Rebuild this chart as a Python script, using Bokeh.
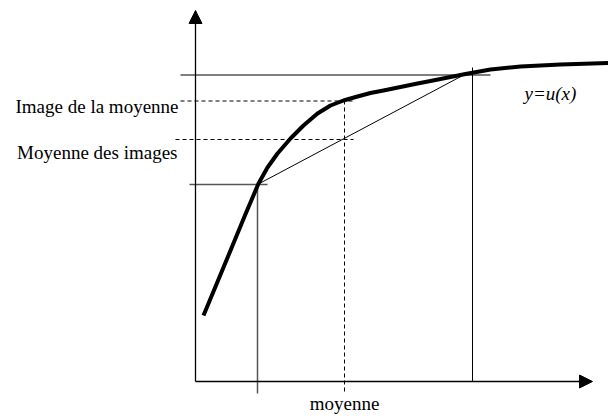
from bokeh.plotting import figure
from bokeh.models import Range1d, Arrow, NormalHead
from bokeh.core.properties import value
from bokeh.embed import file_html
from bokeh.resources import INLINE

# Utility curve u(x) (origin at axes crossing)
curve_x = [8, 35, 49, 63, 72, 82, 95, 108, 122, 135, 148, 162, 175, 188, 205, 222, 235, 250, 270, 295, 325, 365, 413]
curve_y = [66, 131, 165, 198, 214, 228, 243, 256, 268, 276, 281, 285, 288.5, 291, 294.5, 298, 300.5, 303.5, 307.5, 312, 315, 317, 318.5]

# Key values
x_low, x_mean, x_high = 62, 149, 277
chord_end_x, chord_end_y = 271, 308
u_low, u_high = 197, 306.5
u_of_mean, mean_of_u = 280.5, 242

# Axis extents
x_axis_end = 397
y_axis_end = 371

# Labels
label_image_moyenne = "Image de la moyenne"
label_moyenne_images = "Moyenne des images"
label_curve = "y=u(x)"
label_moyenne = "moyenne"

FONT = "Liberation Serif"

p = figure(width=608, height=416, output_backend="svg", toolbar_location=None,
           x_range=Range1d(-195, 413), y_range=Range1d(-35, 381),
           min_border=0, outline_line_color=None)
p.xaxis.visible = False
p.yaxis.visible = False
p.grid.visible = False
p.background_fill_color = "white"
p.border_fill_color = "white"

# Axes with arrows
p.add_layout(Arrow(end=NormalHead(size=13, fill_color="black", line_color="black", line_width=1),
                   x_start=0, y_start=0, x_end=x_axis_end, y_end=0,
                   line_color="black", line_width=1.3))
p.add_layout(Arrow(end=NormalHead(size=13, fill_color="black", line_color="black", line_width=1),
                   x_start=0, y_start=0, x_end=0, y_end=y_axis_end,
                   line_color="black", line_width=1.3))

# Thin solid black lines: top horizontal, right vertical, chord
p.segment(x0=[-15, x_high, x_low], y0=[u_high, 0, u_low],
          x1=[295, x_high, chord_end_x], y1=[u_high, 314, chord_end_y],
          line_color="black", line_width=1)

# Gray lines at lower point
p.segment(x0=[-6, x_low], y0=[u_low, -12], x1=[72, x_low], y1=[u_low, u_low],
          line_color="#555555", line_width=1.5)

# Dashed lines
p.segment(x0=[-15, -20, x_mean], y0=[u_of_mean, mean_of_u, -10],
          x1=[158, 158, x_mean], y1=[u_of_mean, mean_of_u, u_of_mean],
          line_color="black", line_width=1, line_dash="4 3")

# Curve
p.line(curve_x, curve_y, line_color="black", line_width=4, line_join="round")

# Texts
p.text(x=[-17], y=[275], text=[label_image_moyenne], text_align="right",
       text_baseline="alphabetic", text_font=value(FONT), text_font_size="19px",
       text_color="black")
p.text(x=[-18], y=[229], text=[label_moyenne_images], text_align="right",
       text_baseline="alphabetic", text_font=value(FONT), text_font_size="19px",
       text_color="black")
p.text(x=[329], y=[288], text=[label_curve], text_align="left",
       text_baseline="alphabetic", text_font=value(FONT), text_font_size="19px",
       text_font_style="italic", text_color="black")
p.text(x=[x_mean], y=[-32], text=[label_moyenne], text_align="center",
       text_baseline="bottom", text_font=value(FONT), text_font_size="19px",
       text_color="black")

open("out.html", "w").write(file_html(p, INLINE))
